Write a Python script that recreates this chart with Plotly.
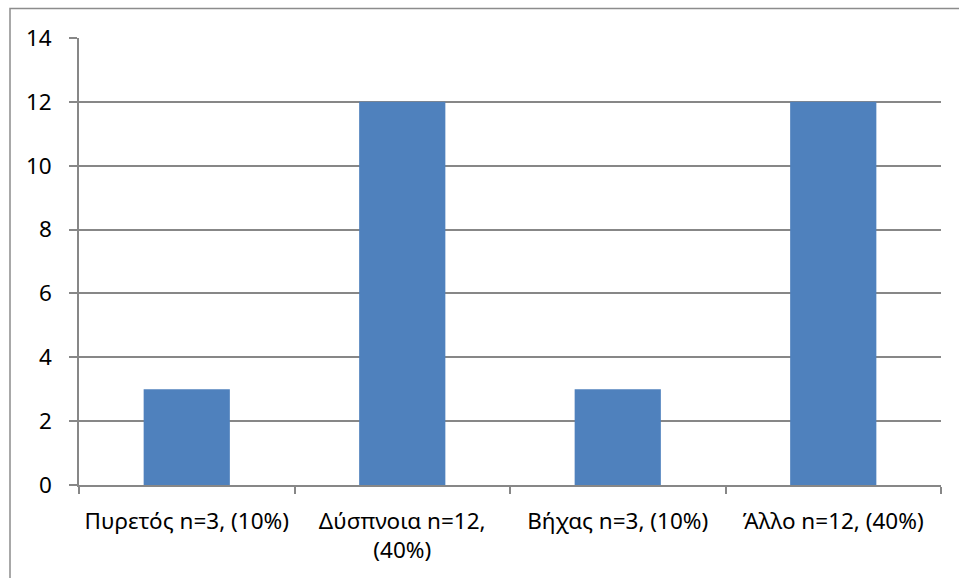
import plotly.graph_objects as go

# Symptom categories and patient counts
categories = ["Πυρετός n=3, (10%)", "Δύσπνοια n=12,<br>(40%)", "Βήχας n=3, (10%)", "Άλλο n=12, (40%)"]
counts = [3, 12, 3, 12]
y_ticks = [0, 2, 4, 6, 8, 10, 12, 14]

W, H = 959, 578
L, R, T, B = 79, 18, 37.5, 92.5
grid = "#878787"
font_family = "Noto Sans"
fsize = 22.5

fig = go.Figure(
    go.Bar(
        x=categories,
        y=counts,
        marker=dict(color="#4F81BD", line=dict(width=0)),
    )
)

plot_w = W - L - R
plot_h = H - T - B

# Outer frame around the whole chart area
fig.add_shape(
    type="rect",
    xref="paper", yref="paper",
    x0=(10 - L) / plot_w, x1=(975 - L) / plot_w,
    y0=-(595 - (H - B)) / plot_h, y1=((H - B) - 8) / plot_h,
    line=dict(color="#8C8C8C", width=1.5),
    fillcolor="rgba(0,0,0,0)",
    layer="below",
)

fig.update_layout(
    width=W, height=H,
    margin=dict(l=L, r=R, t=T, b=B, pad=0),
    paper_bgcolor="white",
    plot_bgcolor="white",
    bargap=0.6,
    showlegend=False,
    font=dict(family=font_family, size=fsize, color="#000000"),
    xaxis=dict(
        type="category",
        tickson="boundaries",
        ticks="outside",
        ticklen=7,
        tickwidth=1.5,
        tickcolor=grid,
        showline=True,
        linecolor=grid,
        linewidth=1.5,
        showgrid=False,
        ticklabelstandoff=15,
        tickfont=dict(family=font_family, size=fsize, color="#000000"),
    ),
    yaxis=dict(
        range=[0, 14],
        tickvals=y_ticks,
        ticks="outside",
        ticklen=8,
        tickwidth=1.5,
        tickcolor=grid,
        showline=True,
        linecolor=grid,
        linewidth=1.5,
        showgrid=True,
        gridcolor=grid,
        gridwidth=1.5,
        zeroline=False,
        ticklabelstandoff=13,
        tickfont=dict(family=font_family, size=fsize, color="#000000"),
    ),
)

fig.write_html("out.html")
